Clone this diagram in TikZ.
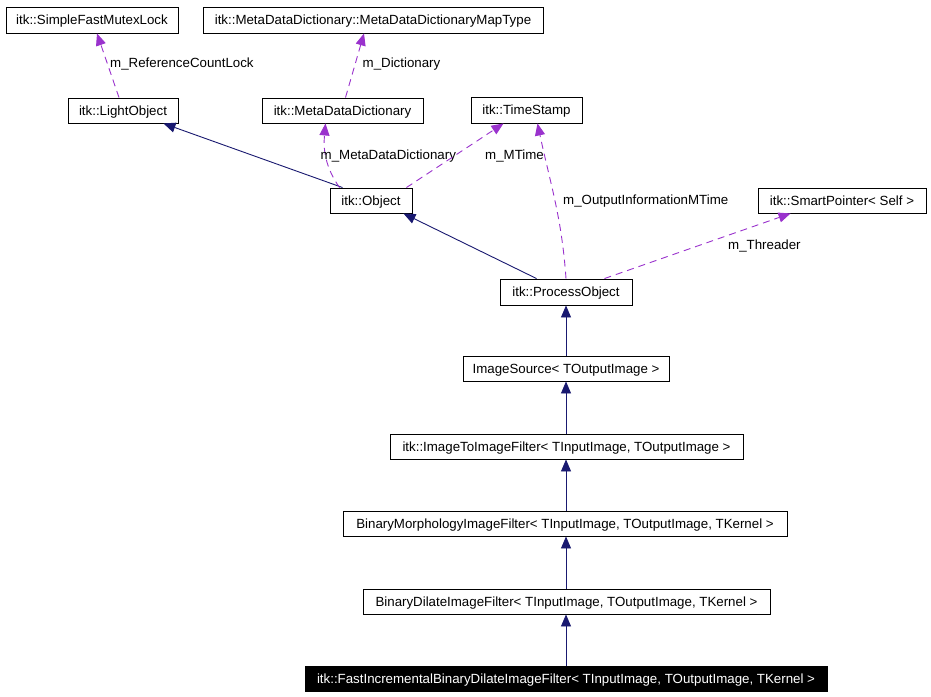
\documentclass[tikz,border=0pt]{standalone}
\usepackage{fontspec}
\setmainfont{Liberation Sans}
\usetikzlibrary{arrows.meta,calc}
\definecolor{navyc}{HTML}{191970}
\definecolor{purpc}{HTML}{9A32CD}
\begin{document}
\begin{tikzpicture}[x=1pt,y=1pt,
  box/.style={draw=black,line width=0.9pt,inner sep=0pt,minimum height=25pt,text height=9.5pt,text depth=0pt,fill=white,font=\fontsize{13.3}{16}\selectfont},
  inh/.style={draw=navyc,line width=0.9pt,-{Triangle[length=12pt,width=10pt,fill=navyc]}},
  use/.style={draw=purpc,line width=0.9pt,dash pattern=on 7pt off 5pt,-{Triangle[length=12pt,width=10pt,fill=purpc]}},
  lab/.style={anchor=west,inner sep=0pt,text height=9.5pt,text depth=0pt,font=\fontsize{13.3}{16}\selectfont}]
\useasboundingbox[fill=white] (0,0) rectangle (931,-696);
% nodes
\node[box,minimum width=172pt,minimum height=26pt] (sfml) at (92,-20) {itk::SimpleFastMutexLock};
\node[box,minimum width=340pt,minimum height=26pt] (map) at (373,-20) {itk::MetaDataDictionary::MetaDataDictionaryMapType};
\node[box,minimum width=110pt] (light) at (123,-110.5) {itk::LightObject};
\node[box,minimum width=161pt] (mdd) at (342.5,-110.5) {itk::MetaDataDictionary};
\node[box,minimum width=111pt,minimum height=26pt] (ts) at (526.5,-110) {itk::TimeStamp};
\node[box,minimum width=82pt] (obj) at (371,-200.5) {itk::Object};
\node[box,minimum width=168pt] (sp) at (842,-200.5) {itk::SmartPointer< Self >};
\node[box,minimum width=132pt,minimum height=26pt] (po) at (566,-292) {itk::ProcessObject};
\node[box,minimum width=206pt] (is) at (566,-368.5) {ImageSource< TOutputImage >};
\node[box,minimum width=353pt] (i2i) at (566.5,-446.5) {itk::ImageToImageFilter< TInputImage, TOutputImage >};
\node[box,minimum width=444pt] (bm) at (565,-523.5) {BinaryMorphologyImageFilter< TInputImage, TOutputImage, TKernel >};
\node[box,minimum width=407pt] (bd) at (566.5,-601.5) {BinaryDilateImageFilter< TInputImage, TOutputImage, TKernel >};
\node[box,minimum width=522pt,fill=black,text=white] (fi) at (566,-678.5) {itk::FastIncrementalBinaryDilateImageFilter< TInputImage, TOutputImage, TKernel >};
% inheritance
\draw[inh] ($(obj.north west)+(13,0)$) -- ($(light.south east)+(-15,0)$);
\draw[inh] ($(po.north west)+(37,0)$) -- ($(obj.south east)+(-9,0)$);
\draw[inh] (is.north) -- (po.south);
\draw[inh] (i2i.north -| is.north) -- (is.south);
\draw[inh] (bm.north -| is.north) -- (i2i.south -| is.north);
\draw[inh] (bd.north -| is.north) -- (bm.south -| is.north);
\draw[inh] (fi.north -| is.north) -- (bd.south -| is.north);
% usage
\draw[use] ($(light.north)+(-4,0)$) -- ($(sfml.south)+(5,0)$);
\node[lab] (l1) at (110,-63) {m\_ReferenceCountLock};
\draw[use] ($(mdd.north)+(3,0)$) -- ($(map.south)+(-9,0)$);
\node[lab] (l2) at (362.5,-63) {m\_Dictionary};
\draw[use] ($(obj.north west)+(10,0)$) to[out=125,in=-95] ($(mdd.south)+(-17,0)$);
\node[lab] (l3) at (320.5,-155) {m\_MetaDataDictionary};
\draw[use] ($(obj.north east)+(-6,0)$) -- ($(ts.south)+(-23,0)$);
\node[lab] (l4) at (485,-155) {m\_MTime};
\draw[use] ($(po.north)+(0,0)$) to[out=94,in=-78] ($(ts.south)+(11,0)$);
\node[lab] (l5) at (563,-200) {m\_OutputInformationMTime};
\draw[use] ($(po.north east)+(-28,0)$) -- ($(sp.south west)+(33,0)$);
\node[lab] (l6) at (728,-245) {m\_Threader};
\end{tikzpicture}
\end{document}
